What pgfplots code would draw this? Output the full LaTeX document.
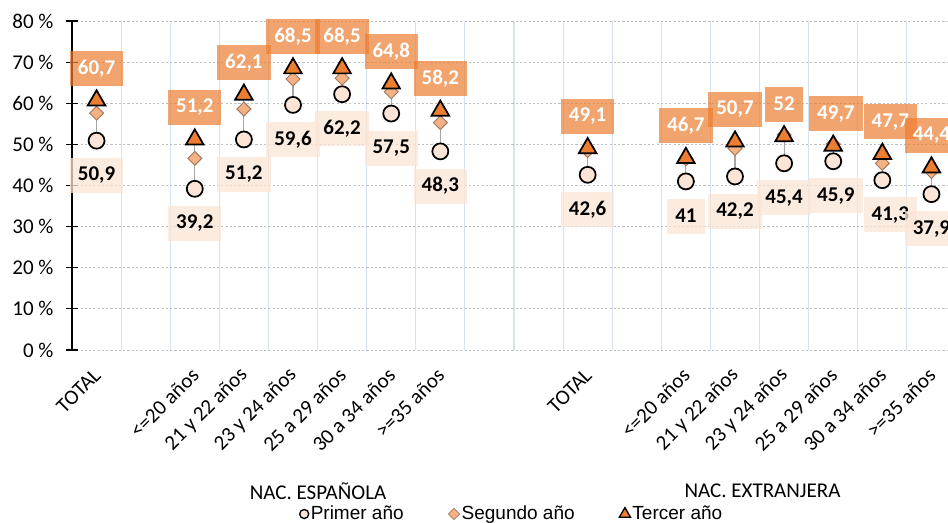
\documentclass[border=0pt]{standalone}
\usepackage{fontspec}
\setmainfont{Carlito}
\newfontfamily\legfont{Liberation Sans}
\usepackage{pgfplots}
\pgfplotsset{compat=1.18}
\usepackage{pgfplotstable}

\definecolor{c1}{HTML}{FCE4D6}
\definecolor{c2}{HTML}{F4B183}
\definecolor{c3}{HTML}{ED7D31}
\definecolor{lblbg}{HTML}{FBE5D6}
\definecolor{vgrid}{HTML}{D6E2F2}
\definecolor{hgrid}{HTML}{BFBFBF}
\definecolor{hilo}{HTML}{A6A6A6}
\definecolor{dmd}{HTML}{A07A60}

\pgfplotsset{myleg/.style={legend image code/.code={\draw[mark repeat=2,mark phase=2,##1] plot coordinates {(0cm,0cm) (0.1cm,0cm) (0.2cm,0cm)};}}}

\pgfplotstableread{
x p s t dx
0 50.9 57.6 60.7 0
2 39.2 46.6 51.2 0
3 51.2 58.6 62.1 0
4 59.6 65.9 68.5 0
5 62.2 66.1 68.5 0
6 57.5 62.8 64.8 0
7 48.3 55.3 58.2 0
10 42.6 48.5 49.1 0
12 41.0 46.5 46.7 0
13 42.2 49.0 50.7 0
14 45.4 52.3 52.0 0
15 45.9 50.1 49.7 2
16 41.3 45.4 47.7 6
17 37.9 43.4 44.4 0
}\datatable

\newcommand{\fs}{\fontsize{15.75}{18}\selectfont}

\begin{document}
\begin{tikzpicture}
\begin{axis}[
  scale only axis, width=663pt, height=246.75pt,
  at={(0,0)}, anchor=south west,
  xmin=-0.5, xmax=17.5, ymin=0, ymax=80,
  clip=false,
  axis lines*=left,
  x axis line style={draw=none},
  y axis line style={black, line width=0.9pt},
  /pgf/number format/assume math mode=true,
  ytick={0,10,...,80},
  yticklabel={\pgfmathprintnumber{\tick}~\%},
  yticklabel style={font=\fs, anchor=east, inner sep=0pt, xshift=-9.2pt},
  tick align=center,
  major tick length=9pt,
  ytick style={black, line width=0.9pt},
  xtick={0,2,3,4,5,6,7,10,12,13,14,15,16,17},
  xticklabels={TOTAL,{<=20 años},{21 y 22 años},{23 y 24 años},{25 a 29 años},{30 a 34 años},{>=35 años},
               TOTAL,{<=20 años},{21 y 22 años},{23 y 24 años},{25 a 29 años},{30 a 34 años},{>=35 años}},
  xticklabel style={font=\fs, xshift=0.5pt, yshift=-12pt, rotate=45, anchor=east, inner sep=0pt},
  xtick style={draw=none},
  minor xtick={0.5,1.5,...,16.5},
  minor tick style={draw=none},
  xminorgrids,
  minor grid style={vgrid, line width=0.8pt},
  ymajorgrids,
  major grid style={hgrid, line width=0.7pt, dash pattern=on 1.6pt off 1.6pt},
  legend style={draw=none, fill=none, legend columns=3, font=\legfont\fontsize{14.25}{16}\selectfont,
    at={(0.4977,-0.4985)}, anchor=center,
    nodes={inner xsep=1.5pt},
    /tikz/every even column/.style={column sep=32pt}},
  legend cell align=left,
]
% high-low lines
\addplot[draw=none, forget plot, error bars/.cd, y dir=plus, y explicit, error mark=none,
  error bar style={hilo, line width=0.8pt}]
  table[x=x, y=p, y error expr=\thisrow{t}-\thisrow{p}] {\datatable};

\addplot[only marks, mark=*, mark size=6pt, mark options={draw=black, fill=c1, line width=1.3pt},
  myleg, legend image post style={mark size=3.4pt, mark options={draw=black, fill=c1, line width=1pt}}]
  table[x=x, y=p] {\datatable};
\addlegendentry{Primer año}

\addplot[only marks, mark=square*, mark size=3.7pt, mark options={rotate=45, draw=dmd, fill=c2, line width=0.7pt},
  myleg, legend image post style={mark size=3pt, mark options={rotate=45, draw=dmd, fill=c2, line width=0.6pt}}]
  table[x=x, y=s] {\datatable};
\addlegendentry{Segundo año}

\addplot[only marks, mark=triangle*, mark size=7.6pt, mark options={draw=black, fill=c3, line width=1.3pt},
  myleg, legend image post style={mark size=4.8pt, mark options={draw=black, fill=c3, line width=1pt}}]
  table[x=x, y=t] {\datatable};
\addlegendentry{Tercer año}

% data labels: Primer año
\addplot[draw=none, forget plot, point meta=explicit,
  visualization depends on={\thisrow{dx}\as\dx},
  nodes near coords={\pgfmathprintnumber[use comma]{\pgfplotspointmeta}},
  every node near coord/.style={anchor=center, yshift=-26pt, xshift=\dx pt, font=\bfseries\fs, text=black,
    fill=lblbg, fill opacity=0.75, text opacity=1, inner xsep=6pt, inner ysep=0pt, minimum height=26.25pt}]
  table[x=x, y=p, meta=p] {\datatable};

% data labels: Tercer año
\addplot[draw=none, forget plot, point meta=explicit,
  visualization depends on={\thisrow{dx}\as\dx},
  nodes near coords={\pgfmathprintnumber[use comma]{\pgfplotspointmeta}},
  every node near coord/.style={anchor=center, yshift=24pt, xshift=\dx pt, font=\bfseries\fs, text=white,
    fill=c3, fill opacity=0.7, text opacity=1, inner xsep=6pt, inner ysep=0pt, minimum height=26.25pt}]
  table[x=x, y=t, meta=t] {\datatable};

\node[font=\fs] at (axis cs:4.51,0) [yshift=-105.75pt] {NAC. ESPAÑOLA};
\node[font=\fs] at (axis cs:13.56,0) [yshift=-105.75pt] {NAC. EXTRANJERA};
\end{axis}
\pgfresetboundingbox
\useasboundingbox (-54pt,-129pt) rectangle (657pt,262.5pt);
\end{tikzpicture}
\end{document}
